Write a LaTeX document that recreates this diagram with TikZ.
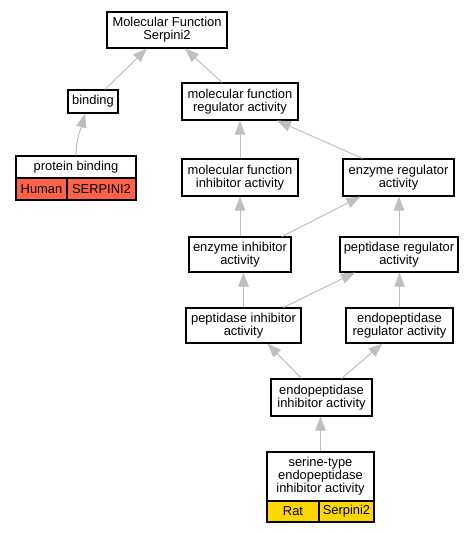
\documentclass[tikz,border=0pt]{standalone}
\usepackage{fontspec}
\setmainfont{Liberation Sans}
\usetikzlibrary{arrows.meta}

\begin{document}
\begin{tikzpicture}[x=1pt,y=-1pt,
  every node/.style={font=\fontsize{12.9}{13}\selectfont},
  term/.style={draw, line width=1.1pt, fill=white, align=center, inner sep=0pt},
  edge/.style={draw=black!25, line width=1pt, -{Triangle[length=14pt,width=10.5pt]}}]
  \useasboundingbox (0,0) rectangle (476,533);
  \node[term, minimum width=120pt, minimum height=36pt] (mf) at (167,30) {Molecular Function\\Serpini2};
  \node[term, minimum width=50pt, minimum height=23pt] (binding) at (93,101.5) {binding};
  \node[term, minimum width=120pt, minimum height=22pt] (pb) at (76,167) {protein binding};
  \node[term, fill={rgb,255:red,255;green,99;blue,71}, minimum width=51pt, minimum height=22pt] (human) at (41.5,189) {Human};
  \node[term, fill={rgb,255:red,255;green,99;blue,71}, minimum width=69pt, minimum height=22pt] (serpH) at (101.5,189) {SERPINI2};
  \node[term, minimum width=116pt, minimum height=37pt] (mfreg) at (240,101.5) {molecular function\\regulator activity};
  \node[term, minimum width=116pt, minimum height=37pt] (mfinh) at (240,177.5) {molecular function\\inhibitor activity};
  \node[term, minimum width=111pt, minimum height=37pt] (enzreg) at (398.5,177.5) {enzyme regulator\\activity};
  \node[term, minimum width=102pt, minimum height=35pt] (enzinh) at (240,254.5) {enzyme inhibitor\\activity};
  \node[term, minimum width=118pt, minimum height=35pt] (pepreg) at (399,254.5) {peptidase regulator\\activity};
  \node[term, minimum width=115pt, minimum height=35pt] (pepinh) at (243.5,325.5) {peptidase inhibitor\\activity};
  \node[term, minimum width=107pt, minimum height=35pt] (endoreg) at (399.5,325.5) {endopeptidase\\regulator activity};
  \node[term, minimum width=101pt, minimum height=37pt] (endoinh) at (321.5,397.5) {endopeptidase\\inhibitor activity};
  \node[term, minimum width=107pt, minimum height=49pt] (serine) at (320.5,476.5) {serine-type\\endopeptidase\\inhibitor activity};
  \node[term, fill={rgb,255:red,255;green,215;blue,0}, minimum width=52pt, minimum height=21pt] (rat) at (293,511.5) {Rat};
  \node[term, fill={rgb,255:red,255;green,215;blue,0}, minimum width=55pt, minimum height=21pt] (serpR) at (346.5,511.5) {Serpini2};

  \draw[edge] ([xshift=12pt]binding.north) -- ([xshift=-20pt]mf.south);
  \draw[edge] ([xshift=-18pt]mfreg.north) -- ([xshift=18pt]mf.south);
  \draw[edge] (pb.north) to[out=90,in=-105] ([xshift=-8pt]binding.south);
  \draw[edge] (mfinh.north) -- (mfreg.south);
  \draw[edge] ([xshift=-36pt]enzreg.north) -- ([xshift=37pt]mfreg.south);
  \draw[edge] (enzinh.north) -- (mfinh.south);
  \draw[edge] ([xshift=42pt]enzinh.north) -- ([xshift=-38pt]enzreg.south);
  \draw[edge] (pepreg.north) -- (pepreg.north |- enzreg.south);
  \draw[edge] (pepinh.north) -- (pepinh.north |- enzinh.south);
  \draw[edge] ([xshift=40pt]pepinh.north) -- ([xshift=-44pt]pepreg.south);
  \draw[edge] (endoreg.north) -- (endoreg.north |- pepreg.south);
  \draw[edge] ([xshift=-20pt]endoinh.north) -- ([xshift=24pt]pepinh.south);
  \draw[edge] ([xshift=20pt]endoinh.north) -- ([xshift=-17pt]endoreg.south);
  \draw[edge] (serine.north) -- (serine.north |- endoinh.south);
\end{tikzpicture}
\end{document}
